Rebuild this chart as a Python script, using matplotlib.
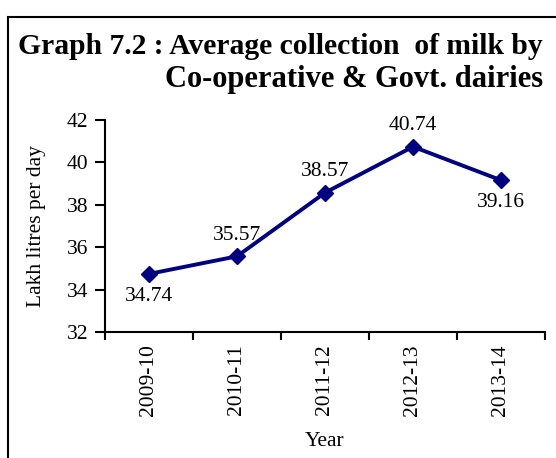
import matplotlib
matplotlib.use("Agg")
import matplotlib.pyplot as plt
import matplotlib.patches as mpatches

years = ["2009-10", "2010-11", "2011-12", "2012-13", "2013-14"]
collection = [34.74, 35.57, 38.57, 40.74, 39.16]
label_above = [False, True, True, True, False]

plt.rcParams["font.family"] = ["Liberation Serif", "DejaVu Serif"]
FS = 15.5

fig = plt.figure(figsize=(5.56, 4.58), dpi=100)

# outer frame of the graph box
fig.patches.append(mpatches.Rectangle(
    (8 / 556, -0.1), 1.2, 1 - 17 / 458 + 0.1,
    transform=fig.transFigure, fill=False, edgecolor="black", linewidth=1.5))

fig.text(18 / 556, 1 - 47 / 458, "Graph 7.2 : Average collection  of milk by",
         fontsize=21.3, fontweight="bold", ha="left", va="center")
fig.text(543 / 556, 1 - 79 / 458, "Co-operative & Govt. dairies",
         fontsize=22, fontweight="bold", ha="right", va="center")

ax = fig.add_axes([105 / 556, 1 - 332 / 458, 440 / 556, 212 / 458])
x = list(range(len(years)))
ax.plot(x, collection, color="#000080", linewidth=2.8, marker="D", markersize=8.5)

for xi, v, up in zip(x, collection, label_above):
    off = 15 if up else -16
    ax.annotate(f"{v:.2f}", (xi, v), xytext=(0, off), textcoords="offset points",
                ha="center", va="center", fontsize=FS)

ax.set_xlim(-0.5, len(years) - 0.5)
ax.set_ylim(32, 42)
ax.set_yticks([32, 34, 36, 38, 40, 42])
ax.set_xticks([i - 0.5 for i in range(len(years) + 1)])
ax.set_xticklabels([])
ax.set_xticks(x, minor=True)
ax.set_xticklabels(years, minor=True, rotation=90, fontsize=FS)
ax.tick_params(axis="x", which="minor", length=0, pad=9)
ax.tick_params(axis="x", which="major", length=6, width=1.5, direction="out")
ax.tick_params(axis="y", length=7, width=1.5, direction="out", labelsize=FS, pad=5)

for s in ["top", "right"]:
    ax.spines[s].set_visible(False)
for s in ["left", "bottom"]:
    ax.spines[s].set_linewidth(1.5)

ax.set_ylabel("Lakh litres per day", fontsize=FS, labelpad=15)
ax.set_xlabel("Year", fontsize=FS, labelpad=11)

fig.savefig("out.png", dpi=100)
